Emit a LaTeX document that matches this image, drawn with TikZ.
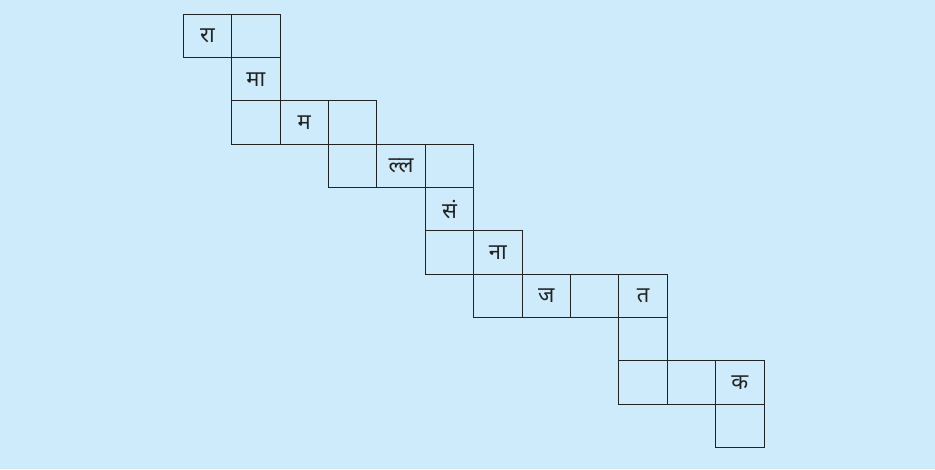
\documentclass[tikz,border=0pt]{standalone}
\usepackage{fontspec}
\newfontfamily\hindifont[Script=Devanagari]{Noto Sans}
\usetikzlibrary{positioning}
\definecolor{skyback}{HTML}{CDEBFB}
\definecolor{gridline}{HTML}{222222}

\begin{document}
\begin{tikzpicture}[
  x=1pt,y=-1pt,
  node distance=0pt,
  cell/.style={draw=gridline,line width=1pt,minimum width=48.4pt,minimum height=43.3pt,
    inner sep=0pt,outer sep=0pt,text=gridline,font=\hindifont\fontsize{22}{24}\selectfont}
]
  \fill[skyback] (0,0) rectangle (935,469);
  \useasboundingbox (0,0) rectangle (935,469);
  % row 1-2
  \node[cell,anchor=north west] (ra) at (183.3,14.3) {रा};
  \node[cell,right=of ra] (c1) {};
  \node[cell,below=of c1] (maa) {मा};
  % row 3
  \node[cell,below=of maa] (c3a) {};
  \node[cell,right=of c3a] (ma) {म};
  \node[cell,right=of ma] (c3b) {};
  % row 4
  \node[cell,below=of c3b] (c4a) {};
  \node[cell,right=of c4a] (lla) {ल्ल};
  \node[cell,right=of lla] (c4b) {};
  % row 5-6
  \node[cell,below=of c4b] (sam) {सं};
  \node[cell,below=of sam] (c6a) {};
  \node[cell,right=of c6a] (naa) {ना};
  % row 7
  \node[cell,below=of naa] (c7a) {};
  \node[cell,right=of c7a] (ja) {ज};
  \node[cell,right=of ja] (c7b) {};
  \node[cell,right=of c7b] (ta) {त};
  % row 8-10
  \node[cell,below=of ta] (c8) {};
  \node[cell,below=of c8] (c9a) {};
  \node[cell,right=of c9a] (c9b) {};
  \node[cell,right=of c9b] (ka) {क};
  \node[cell,below=of ka] (c10) {};
\end{tikzpicture}
\end{document}
